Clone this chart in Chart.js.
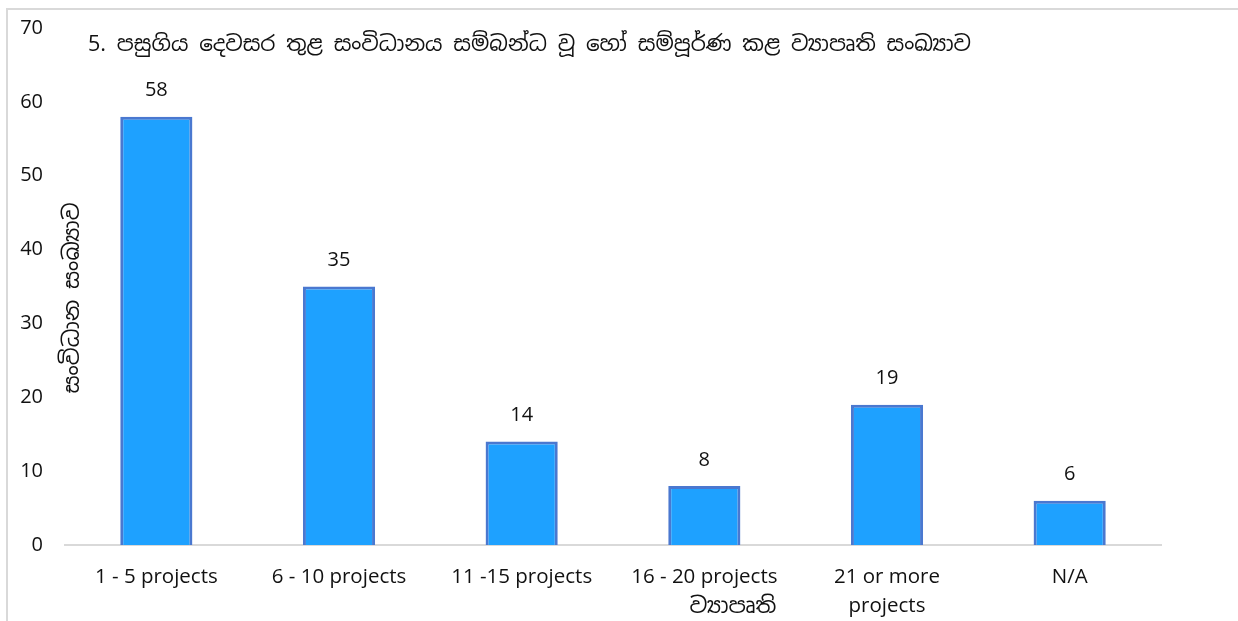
<!DOCTYPE html>
<html lang="si">
<head>
  <meta charset="UTF-8" />
  <title>ව්‍යාපෘති සංඛ්‍යාව</title>
  <script src="https://cdn.jsdelivr.net/npm/chart.js"></script>
  <style>
    html, body { margin: 0; padding: 0; background: #fff; }
    #wrap { width: 1238px; height: 621px; }
  </style>
</head>
<body>
  <div id="wrap"><canvas id="grafico" width="1238" height="621"></canvas></div>

  <script>
    // dados
    const categorias = ["1 - 5 projects", "6 - 10 projects", "11 -15 projects", "16 - 20 projects", ["21 or more", "projects"], "N/A"];
    const valores = [58, 35, 14, 8, 19, 6];
    const yTicks = [0, 10, 20, 30, 40, 50, 60, 70];

    const titulo = "5. පසුගිය දෙවසර තුළ සංවිධානය සම්බන්ධ වූ හෝ සම්පූර්ණ කළ ව්‍යාපෘති සංඛ්‍යාව";
    const tituloY = "සංවිධාන සංඛ්‍යාව";
    const tituloX = "ව්‍යාපෘති";

    const fonteLatina = "'Open Sans', 'Noto Sans', sans-serif";
    const fonteSinhala = "'Iskoola Pota', 'Noto Sans Sinhala', 'Noto Serif Sinhala', 'Noto Sans', sans-serif";

    // rótulos acima das barras + textos soltos + moldura
    const extras = {
      id: "extras",
      afterDatasetsDraw(chart) {
        const ctx = chart.ctx;
        const meta = chart.getDatasetMeta(0);
        ctx.save();
        ctx.fillStyle = "#111";
        ctx.font = "20px " + fonteLatina;
        ctx.textAlign = "center";
        ctx.textBaseline = "middle";
        meta.data.forEach((bar, i) => {
          ctx.fillText(String(valores[i]), bar.x, bar.y - 26);
        });
        ctx.restore();
      },
      afterDraw(chart) {
        const ctx = chart.ctx;
        const area = chart.chartArea;
        ctx.save();
        // moldura
        ctx.strokeStyle = "#d9d9d9";
        ctx.lineWidth = 2;
        ctx.beginPath();
        ctx.moveTo(7, 621);
        ctx.lineTo(7, 9);
        ctx.lineTo(1238, 9);
        ctx.stroke();

        ctx.fillStyle = "#111";
        ctx.font = "21.5px " + fonteSinhala;
        ctx.textBaseline = "middle";
        ctx.textAlign = "left";
        ctx.fillText(titulo, area.left + 23, 45);

        ctx.font = "22px " + fonteSinhala;
        ctx.textAlign = "center";
        ctx.fillText(tituloX, 733, 607);

        ctx.translate(73, 298);
        ctx.rotate(-Math.PI / 2);
        ctx.fillText(tituloY, 0, 0);
        ctx.restore();
      }
    };

    new Chart(document.getElementById("grafico"), {
      type: "bar",
      data: {
        labels: categorias,
        datasets: [{
          data: valores,
          backgroundColor: "#1ea1ff",
          borderColor: "#4a78d0",
          borderWidth: 3,
          barPercentage: 0.5,
          categoryPercentage: 0.79
        }]
      },
      options: {
        responsive: false,
        animation: false,
        layout: { padding: { top: 28, right: 77, left: 0, bottom: 0 } },
        plugins: {
          legend: { display: false },
          tooltip: { enabled: false }
        },
        scales: {
          x: {
            grid: { display: false, drawTicks: false },
            border: { display: true, color: "#d9d9d9", width: 2 },
            ticks: {
              color: "#111",
              font: { size: 20.5, family: fonteLatina, lineHeight: 1.4 },
              padding: 18,
              maxRotation: 0,
              autoSkip: false
            },
            afterFit(scale) { scale.height = 76; }
          },
          y: {
            min: 0,
            max: 70,
            afterBuildTicks(scale) { scale.ticks = yTicks.map(v => ({ value: v })); },
            grid: { display: false, drawTicks: false },
            border: { display: false },
            ticks: {
              color: "#111",
              font: { size: 20, family: fonteLatina },
              padding: 22
            },
            afterFit(scale) {
              scale.width = 65;
              scale.paddingTop = 0;
              scale.paddingBottom = 0;
            }
          }
        }
      },
      plugins: [extras]
    });
  </script>
</body>
</html>
